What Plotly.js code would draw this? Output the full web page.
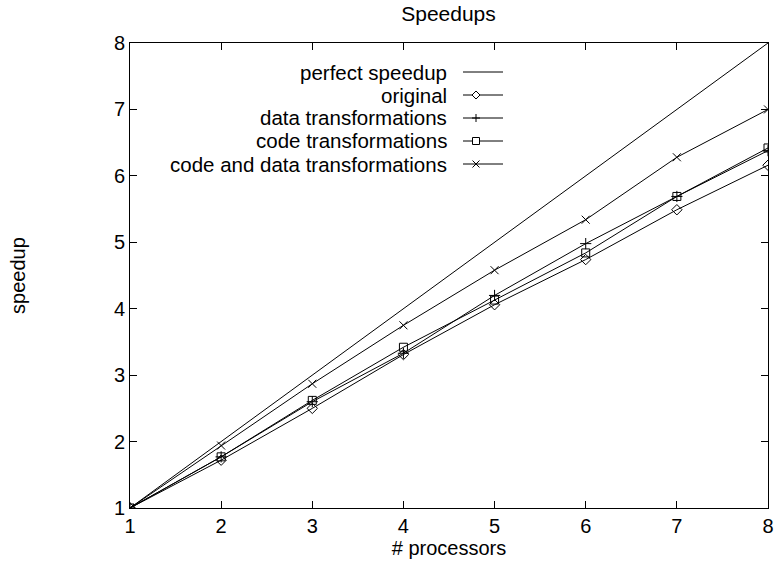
<!DOCTYPE html>
<html><head><meta charset="utf-8">
<script src="https://cdn.plot.ly/plotly-3.0.1.min.js"></script>
<style>body{margin:0;background:#fff}#c{width:776px;height:562px}</style>
</head><body><div id="c"></div>
<script>
const processors = [1, 2, 3, 4, 5, 6, 7, 8];
const perfect = [1, 2, 3, 4, 5, 6, 7, 8];
const original = [1, 1.72, 2.50, 3.31, 4.06, 4.74, 5.49, 6.16];
const dataTransf = [1, 1.77, 2.60, 3.33, 4.20, 4.98, 5.69, 6.38];
const codeTransf = [1, 1.77, 2.62, 3.42, 4.13, 4.84, 5.69, 6.42];
const codeDataTransf = [1, 1.94, 2.87, 3.75, 4.58, 5.34, 6.28, 7.00];
const names = ["perfect speedup", "original", "data transformations", "code transformations", "code and data transformations"];
const symbols = [null, "diamond-open", "cross-thin-open", "square-open", "x-thin-open"];

const fam = "Liberation Sans, Arial, sans-serif";
const font = {family: fam, size: 20, color: "#000"};
const series = [perfect, original, dataTransf, codeTransf, codeDataTransf];
const traces = series.map((y, i) => {
  const t = {x: processors, y: y, name: names[i], type: "scatter",
    mode: symbols[i] ? "lines+markers" : "lines",
    line: {color: "#000", width: 1}, showlegend: false};
  if (symbols[i]) t.marker = {symbol: symbols[i], size: 8, color: "#000", line: {color: "#000", width: 1}};
  return t;
});

// custom gnuplot-style legend: right-aligned text, sample to the right
const W = 638, H = 465;           // plot area size in px
const textRight = (448 - 130) / W;
const sampleX0 = (463 - 130) / W, sampleX1 = (503 - 130) / W, markX = (476 - 130) / W;
const rowY = i => (508 - (72 + 23 * i)) / H;
const markerPaths = {
  "diamond-open": "M0,-4L4,0L0,4L-4,0Z",
  "cross-thin-open": "M-4,0L4,0M0,-4L0,4",
  "square-open": "M-3.5,-3.5L3.5,-3.5L3.5,3.5L-3.5,3.5Z",
  "x-thin-open": "M-3.5,-3.5L3.5,3.5M-3.5,3.5L3.5,-3.5"
};
const annotations = [], shapes = [];
names.forEach((n, i) => {
  const y = rowY(i);
  annotations.push({text: n, xref: "paper", yref: "paper", x: textRight, y: y,
    xanchor: "right", yanchor: "middle", showarrow: false, borderpad: 0,
    font: {family: fam, size: 20.5, color: "#000"}});
  shapes.push({type: "line", xref: "paper", yref: "paper", x0: sampleX0, x1: sampleX1, y0: y, y1: y,
    line: {color: "#000", width: 1}});
  if (symbols[i]) shapes.push({type: "path", xref: "paper", yref: "paper",
    xsizemode: "pixel", ysizemode: "pixel", xanchor: markX, yanchor: y,
    path: markerPaths[symbols[i]], fillcolor: "#fff", line: {color: "#000", width: 1}});
});

const axis = {showgrid: false, zeroline: false, showline: true, linecolor: "#000", linewidth: 1,
  mirror: "ticks", ticks: "inside", ticklen: 7, tickcolor: "#000", tickfont: font, dtick: 1};
Plotly.newPlot("c", traces, {
  width: 776, height: 562,
  margin: {l: 130, r: 8, t: 43, b: 54},
  paper_bgcolor: "#fff", plot_bgcolor: "#fff",
  font: font,
  showlegend: false,
  title: {text: "Speedups", font: {family: fam, size: 21, color: "#000"}, x: 0.578, xanchor: "center", y: 0.975, yanchor: "middle"},
  xaxis: Object.assign({}, axis, {range: [1, 8], title: {text: "# processors", font: font, standoff: 0}}),
  yaxis: Object.assign({}, axis, {range: [1, 8], title: {text: "speedup", font: font, standoff: 82}}),
  annotations: annotations,
  shapes: shapes
}, {displayModeBar: false, staticPlot: true});
</script></body></html>
